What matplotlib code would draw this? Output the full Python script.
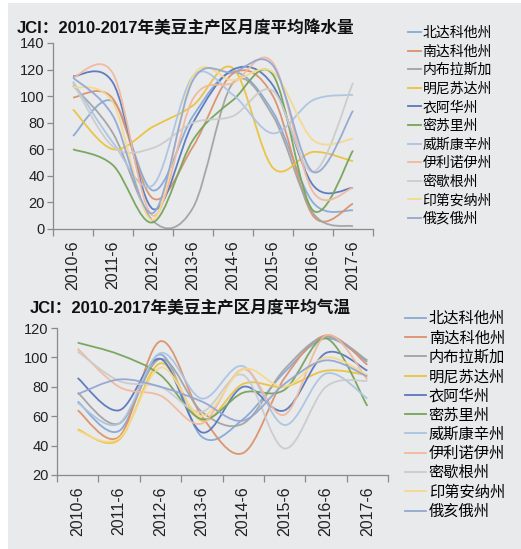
import numpy as np
import matplotlib
matplotlib.use('Agg')
import matplotlib.pyplot as plt
from matplotlib.path import Path
from matplotlib.patches import PathPatch, Rectangle
from matplotlib.lines import Line2D

# ---- data ----
years = ['2010-6', '2011-6', '2012-6', '2013-6', '2014-6', '2015-6', '2016-6', '2017-6']
states = ['北达科他州', '南达科他州', '内布拉斯加', '明尼苏达州', '衣阿华州', '密苏里州',
          '威斯康辛州', '伊利诺伊州', '密歇根州', '印第安纳州', '俄亥俄州']
colors = ['#86a8d6', '#dc916a', '#a3a3a3', '#ecc23c', '#5b77bd', '#76a459',
          '#abc4e2', '#f1b99c', '#cbcbcb', '#f6d98c', '#93a7d3']

# monthly average precipitation
precip = [
    [70, 96, 29, 85, 118, 88, 20, 14],
    [99, 98, 23, 62, 117, 100, 10, 19],
    [108, 72, 6, 16, 110, 85, 12, 2],
    [90, 60, 77, 93, 121, 46, 58, 51],
    [115, 110, 15, 80, 120, 108, 33, 31],
    [60, 48, 5, 67, 97, 116, 14, 59],
    [111, 65, 33, 115, 101, 72, 97, 101],
    [114, 117, 10, 98, 110, 125, 28, 31],
    [110, 62, 61, 80, 85, 104, 43, 110],
    [107, 95, 7, 115, 112, 118, 67, 68],
    [114, 85, 12, 112, 118, 123, 43, 89],
]

# monthly average temperature
temp = [
    [70, 50, 102, 46, 58, 90, 113, 97],
    [64, 46, 111, 60, 35, 86, 115, 95],
    [76, 55, 99, 63, 55, 92, 114, 98],
    [51, 44, 96, 57, 82, 80, 91, 88],
    [86, 64, 99, 49, 80, 64, 103, 91],
    [110, 102, 88, 58, 76, 78, 113, 67],
    [69, 55, 103, 72, 94, 54, 89, 72],
    [106, 80, 74, 55, 92, 61, 115, 85],
    [104, 84, 80, 63, 88, 38, 80, 84],
    [50, 45, 93, 60, 92, 80, 100, 88],
    [75, 85, 80, 70, 57, 82, 98, 87],
]

CJK = 'Noto Sans CJK SC'
LATIN = ['Liberation Sans', CJK]


def smooth_path(vals):
    """Excel-like smoothed line: cubic bezier through every point."""
    pts = np.column_stack([np.arange(len(vals)), vals]).astype(float)
    n = len(pts)
    verts = [pts[0]]
    codes = [Path.MOVETO]
    for i in range(n - 1):
        p0 = pts[max(i - 1, 0)]
        p1 = pts[i]
        p2 = pts[i + 1]
        p3 = pts[min(i + 2, n - 1)]
        verts += [p1 + (p2 - p0) / 6, p2 - (p3 - p1) / 6, p2]
        codes += [Path.CURVE4] * 3
    return Path(verts, codes)


def draw_panel(ax, data, ylim, yticks, title, title_xy, leg_xy, leg_size, leg_hl, leg_sp, leg_pad):
    for vals, c in zip(data, colors):
        ax.add_patch(PathPatch(smooth_path(vals), facecolor='none', edgecolor=c,
                               lw=1.3, alpha=0.95))
    ax.set_xlim(-0.5, len(years) - 0.5)
    ax.set_ylim(*ylim)
    ax.set_facecolor('none')
    for s in ['top', 'right']:
        ax.spines[s].set_visible(False)
    for s in ['left', 'bottom']:
        ax.spines[s].set_color('#8a8a8a')
        ax.spines[s].set_linewidth(0.9)
    ax.set_yticks(yticks)
    ax.set_xticks(np.arange(len(years)))
    ax.set_xticklabels(years, rotation=90, fontsize=11.5, family='Liberation Sans', color='#222')
    ax.set_xticks(np.arange(len(years) + 1) - 0.5, minor=True)
    ax.tick_params(axis='x', which='major', length=0, pad=8)
    ax.tick_params(axis='x', which='minor', length=5, color='#8a8a8a', width=0.9)
    ax.tick_params(axis='y', length=4, color='#8a8a8a', width=0.9, pad=2, labelsize=10.5,
                   labelcolor='#222')
    for lb in ax.get_yticklabels():
        lb.set_family('Liberation Sans')

    fig = ax.get_figure()
    fig.text(title_xy[0], title_xy[1], title, family=LATIN, weight='bold', fontsize=12,
             color='#111', va='center', ha='left')
    handles = [Line2D([], [], color=c, lw=1.3) for c in colors]
    ax.legend(handles, states, loc='upper left', bbox_to_anchor=leg_xy,
              bbox_transform=fig.transFigure, frameon=False, borderpad=0, borderaxespad=0,
              handlelength=leg_hl, handletextpad=leg_pad, labelspacing=leg_sp,
              prop={'family': CJK, 'size': leg_size})


W, H = 521, 549
fig = plt.figure(figsize=(W / 100, H / 100), dpi=100, facecolor='white')
fig.add_artist(Rectangle((8 / W, 0), 1, 1 - 3 / H, transform=fig.transFigure,
                         facecolor='#e8eaec', edgecolor='none', zorder=-10))

ax1 = fig.add_axes([53 / W, 1 - 229 / H, 320 / W, 186 / H])
draw_panel(ax1, precip, (0, 140), np.arange(0, 141, 20),
           'JCI：2010-2017年美豆主产区月度平均降水量', (17 / W, 1 - 28 / H),
           (408 / W, 1 - 26 / H), 10, 0.9, 0.33, 0.15)

ax2 = fig.add_axes([57 / W, 1 - 475 / H, 331 / W, 147 / H])
draw_panel(ax2, temp, (20, 120), np.arange(20, 121, 20),
           'JCI：2010-2017年美豆主产区月度平均气温', (30 / W, 1 - 308 / H),
           (405 / W, 1 - 310 / H), 11, 1.4, 0.15, 0.15)

fig.savefig('out.png', dpi=100, facecolor=fig.get_facecolor())
